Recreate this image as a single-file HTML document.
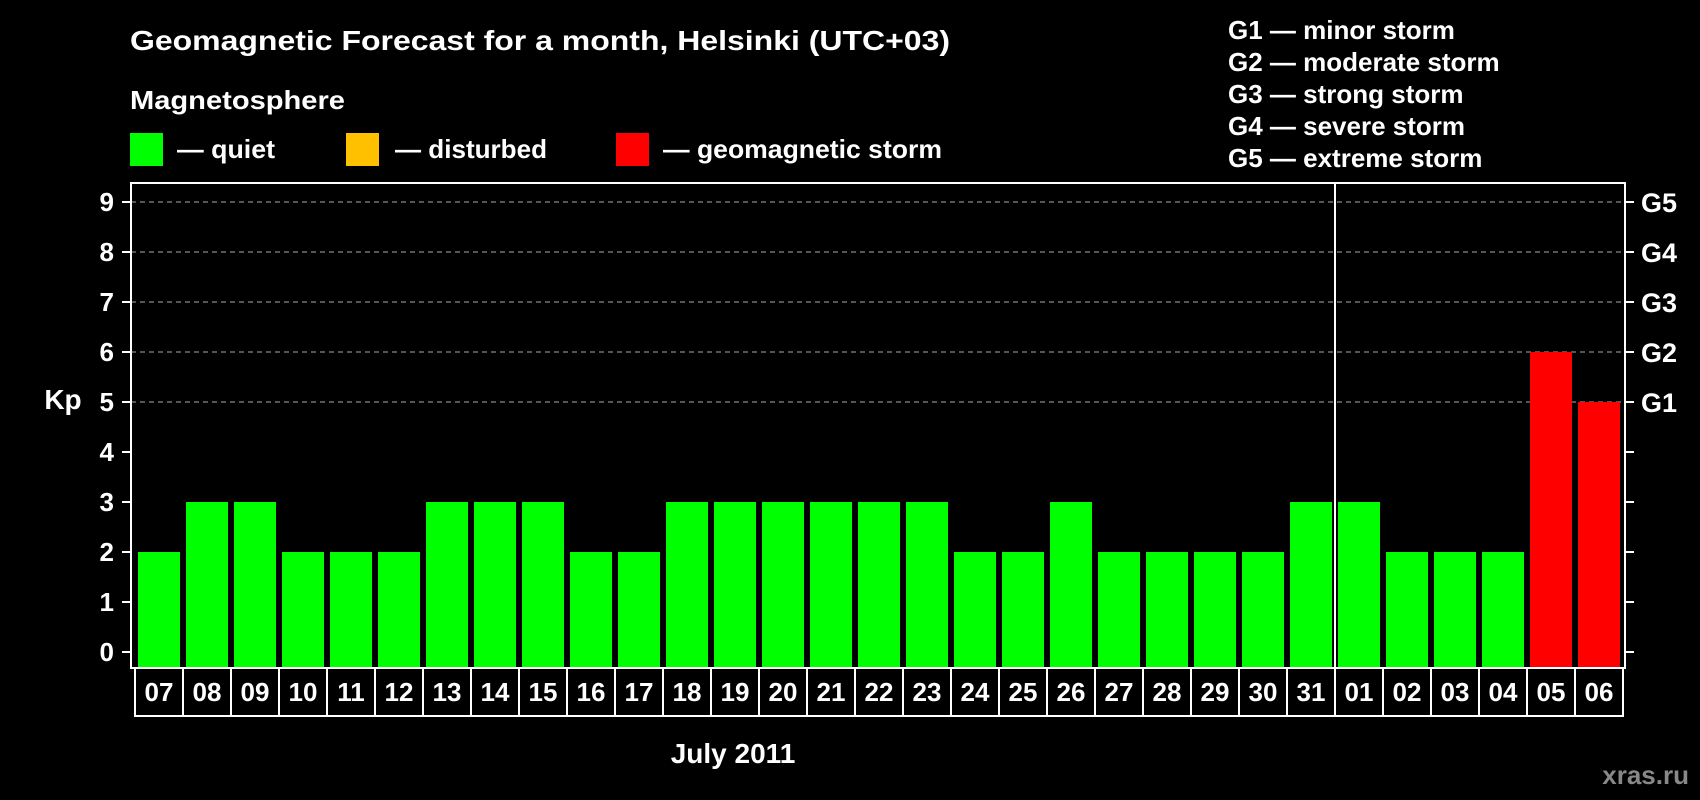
<!DOCTYPE html>
<html><head><meta charset="utf-8"><style>
html,body{margin:0;padding:0;background:#000;}
svg{display:block;font-family:"Liberation Sans",Arial,sans-serif;font-weight:bold;}
</style></head><body>
<svg id="chart" width="1700" height="800" viewBox="0 0 1700 800">
<rect width="1700" height="800" fill="#000"/>
<text x="130" y="50" fill="#fff" font-size="28" textLength="820" lengthAdjust="spacingAndGlyphs">Geomagnetic Forecast for a month, Helsinki (UTC+03)</text>
<text x="130" y="109" fill="#fff" font-size="26" textLength="215" lengthAdjust="spacingAndGlyphs">Magnetosphere</text>
<g>
<rect x="130" y="133" width="33" height="33" fill="#00ff00"/>
<text x="177" y="158" fill="#fff" font-size="26" textLength="98" lengthAdjust="spacingAndGlyphs">— quiet</text></g>
<g>
<rect x="346" y="133" width="33" height="33" fill="#ffc000"/>
<text x="395" y="158" fill="#fff" font-size="26" textLength="152" lengthAdjust="spacingAndGlyphs">— disturbed</text></g>
<g>
<rect x="616" y="133" width="33" height="33" fill="#ff0000"/>
<text x="663" y="158" fill="#fff" font-size="26" textLength="279" lengthAdjust="spacingAndGlyphs">— geomagnetic storm</text></g>
<g fill="#fff" font-size="26">
<text x="1228" y="39">G1 — minor storm</text>
<text x="1228" y="71">G2 — moderate storm</text>
<text x="1228" y="103">G3 — strong storm</text>
<text x="1228" y="135">G4 — severe storm</text>
<text x="1228" y="167">G5 — extreme storm</text>
</g>
<text x="63" y="409" fill="#fff" font-size="28" text-anchor="middle">Kp</text>
<text x="733" y="763" fill="#fff" font-size="28" text-anchor="middle">July 2011</text>
<text x="1689" y="784" fill="#888" font-size="26" text-anchor="end">xras.ru</text>
<g id="grid"></g><g id="bars"></g><g id="axes"></g>
</svg>
<script>
const days = ["07","08","09","10","11","12","13","14","15","16","17","18","19","20","21","22","23","24","25","26","27","28","29","30","31","01","02","03","04","05","06"];
const kpValues = [2,3,3,2,2,2,3,3,3,2,2,3,3,3,3,3,3,2,2,3,2,2,2,2,3,3,2,2,2,6,5];
const yTicks = [0,1,2,3,4,5,6,7,8,9];
const gLabels = ["G1","G2","G3","G4","G5"];
const gLevels = [5,6,7,8,9];
const monthBreakIndex = 25;

const NS="http://www.w3.org/2000/svg";
const L=131,R=1625,T=183,B=668,LB=716;
const y0=652,unit=(652-202)/9;
const slot=48,barStart=138,barW=42,boxStart=135;
function yS(v){return y0-v*unit;}
function xS(i){return barStart+i*slot;}
function mk(tag,attrs,parent){const e=document.createElementNS(NS,tag);for(const k in attrs)e.setAttribute(k,attrs[k]);parent.appendChild(e);return e;}
const grid=document.getElementById('grid'),bars=document.getElementById('bars'),axes=document.getElementById('axes');
gLevels.forEach(v=>{
  const l=mk('line',{x1:L,x2:R,y1:yS(v),y2:yS(v),stroke:'#888','stroke-width':1.2,'stroke-dasharray':'5,4'},grid);
  
  
});
kpValues.forEach((v,i)=>{
  const c=v>=5?'#ff0000':(v>=4?'#ffc000':'#00ff00');
  const r=mk('rect',{x:xS(i),y:yS(v),width:barW,height:B-1-yS(v),fill:c},bars);
  
  
});
const frame=mk('rect',{x:L,y:T,width:R-L,height:B-T,fill:'none',stroke:'#fff','stroke-width':2},axes);


const sep=mk('line',{x1:boxStart+monthBreakIndex*slot,x2:boxStart+monthBreakIndex*slot,y1:T,y2:LB,stroke:'#fff','stroke-width':2},axes);


yTicks.forEach(v=>{
  const t=mk('line',{x1:L-9,x2:L,y1:yS(v),y2:yS(v),stroke:'#fff','stroke-width':2},axes);
  
  
  const t2=mk('line',{x1:R,x2:R+9,y1:yS(v),y2:yS(v),stroke:'#fff','stroke-width':2},axes);
  
  
  const tx=mk('text',{x:114,y:yS(v)+9,fill:'#fff','font-size':26,'text-anchor':'end'},axes);
  tx.textContent=v;
  
  
});
gLabels.forEach((g,i)=>{
  const tx=mk('text',{x:1641,y:yS(gLevels[i])+10,fill:'#fff','font-size':27},axes);
  tx.textContent=g;
  
  
});
const boxEnd=boxStart+days.length*slot;
const xb=mk('path',{d:`M${boxStart} ${B}V${LB}H${boxEnd}V${B}`,fill:'none',stroke:'#fff','stroke-width':2},axes);


days.forEach((d,i)=>{
  if(i>0){
    const dl=mk('line',{x1:boxStart+i*slot,x2:boxStart+i*slot,y1:B,y2:LB,stroke:'#fff','stroke-width':2},axes);
    
    
  }
  const tx=mk('text',{x:boxStart+i*slot+slot/2,y:701,fill:'#fff','font-size':26,'text-anchor':'middle'},axes);
  tx.textContent=d;
  
  
});
</script>
</body></html>
